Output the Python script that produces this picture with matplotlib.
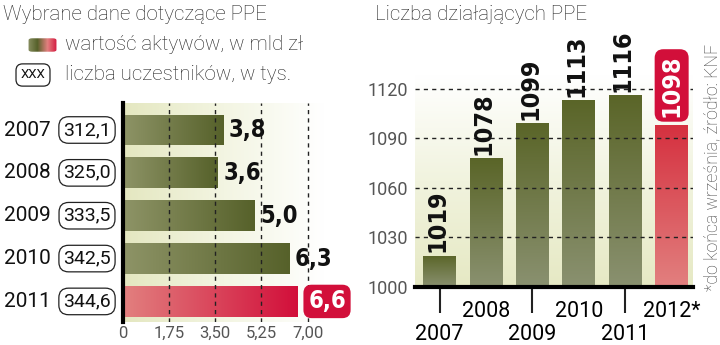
import numpy as np
import matplotlib
matplotlib.use("Agg")
import matplotlib.pyplot as plt
from matplotlib.colors import LinearSegmentedColormap
from matplotlib.patches import FancyBboxPatch
from matplotlib.transforms import blended_transform_factory

plt.rcParams['font.family'] = ['Roboto', 'DejaVu Sans']

# dane do wykresu lewego
lata = ['2007', '2008', '2009', '2010', '2011']
aktywa = [3.8, 3.6, 5.0, 6.3, 6.6]
uczestnicy = ['312,1', '325,0', '333,5', '342,5', '344,6']
aktywa_tekst = ['3,8', '3,6', '5,0', '6,3', '6,6']

# dane do wykresu prawego
lata_ppe = ['2007', '2008', '2009', '2010', '2011', '2012*']
liczba_ppe = [1019, 1078, 1099, 1113, 1116, 1098]

ZIELONY_JASNY = '#8e9467'
ZIELONY_CIEMNY = '#56612a'
CZERWONY_JASNY = '#e2807f'
CZERWONY_CIEMNY = '#d20f3a'
SZARY = '#555555'
BOLD = dict(family='DejaVu Sans', fontstretch='condensed', fontweight='bold')

fig = plt.figure(figsize=(7.2, 3.45), dpi=100)


def gradient_bar(ax, patch, c1, c2, horizontal=True):
    # wypelnia prostokat slupka gradientem
    cmap = LinearSegmentedColormap.from_list('g', [c1, c2])
    x0, y0 = patch.get_x(), patch.get_y()
    w, h = patch.get_width(), patch.get_height()
    grad = np.linspace(0, 1, 256)
    grad = grad.reshape(1, -1) if horizontal else grad.reshape(-1, 1)
    im = ax.imshow(grad, cmap=cmap, aspect='auto', origin='lower',
                   extent=[x0, x0 + w, y0, y0 + h], zorder=patch.get_zorder())
    im.set_clip_path(patch)
    patch.set_facecolor('none')


# ---------------- lewy wykres: aktywa ----------------
ax1 = fig.add_axes([123 / 720, 23 / 345, 211 / 720, 219 / 345])
ax1.set_xlim(0, 8.0)
ax1.set_ylim(4.48, -0.63)

# tlo z gradientem
tlo = LinearSegmentedColormap.from_list('tlo', ['#e4e7c0', '#f3f5e2', '#ffffff'])
ax1.imshow(np.linspace(0, 1, 256).reshape(1, -1), cmap=tlo, aspect='auto',
           extent=[0, 7.6, 4.48, -0.63], zorder=0)

poz = np.arange(len(lata))
slupki = ax1.barh(poz, aktywa, height=0.72, zorder=2)
for i, p in enumerate(slupki):
    if i == len(slupki) - 1:
        gradient_bar(ax1, p, CZERWONY_JASNY, CZERWONY_CIEMNY)
    else:
        gradient_bar(ax1, p, ZIELONY_JASNY, ZIELONY_CIEMNY)

for x in [1.75, 3.5, 5.25, 7.0]:
    ax1.axvline(x, color='#222222', lw=1.0, ls=(0, (3, 3)), zorder=3)

ax1.set_xticks([0, 1.75, 3.5, 5.25, 7.0], ['0', '1,75', '3,50', '5,25', '7,00'])
ax1.tick_params(axis='x', length=0, pad=3, labelsize=12, labelcolor=SZARY)
ax1.set_yticks([])
for s in ['top', 'right', 'bottom']:
    ax1.spines[s].set_visible(False)
ax1.spines['left'].set_linewidth(3)
ax1.spines['left'].set_zorder(5)

tr = blended_transform_factory(fig.transFigure, ax1.transData)
for i in range(len(lata)):
    ax1.text(51 / 720, i, lata[i], transform=tr, ha='right', va='center',
             fontsize=15, color='#111111')
    ax1.text(87 / 720, i, uczestnicy[i], transform=tr, ha='center', va='center',
             fontsize=14, color='#111111',
             bbox=dict(boxstyle='round,pad=0.22,rounding_size=0.5', fc='white',
                       ec='#222222', lw=0.9))
    if i == len(lata) - 1:
        ax1.text(aktywa[i] + 0.42, i, aktywa_tekst[i], ha='left', va='center',
                 fontsize=17, color='white', **BOLD,
                 bbox=dict(boxstyle='round,pad=0.2,rounding_size=0.35',
                           fc=CZERWONY_CIEMNY, ec='none'), clip_on=False)
    else:
        ax1.text(aktywa[i] + 0.2, i, aktywa_tekst[i], ha='left', va='center',
                 fontsize=17, color='#111111', **BOLD)

# ---------------- prawy wykres: liczba PPE ----------------
ax2 = fig.add_axes([415 / 720, 58 / 345, 278 / 720, 248 / 345])
ax2.set_xlim(-0.53, 5.46)
ax2.set_ylim(1000, 1150)

tlo2 = LinearSegmentedColormap.from_list('tlo2', ['#e6e9c4', '#f1f3de', '#ffffff'])
ax2.imshow(np.linspace(0, 1, 256).reshape(-1, 1), cmap=tlo2, aspect='auto',
           origin='lower', extent=[-0.53, 5.46, 1000, 1128], zorder=0)

x = np.arange(len(lata_ppe))
slupki2 = ax2.bar(x, np.array(liczba_ppe) - 1000, bottom=1000, width=0.71, zorder=2)
for i, p in enumerate(slupki2):
    if i == len(slupki2) - 1:
        gradient_bar(ax2, p, CZERWONY_JASNY, '#d5303f', horizontal=False)
    else:
        gradient_bar(ax2, p, '#8a9170', '#5a6528', horizontal=False)

for y in [1030, 1060, 1090, 1120]:
    ax2.axhline(y, color='#222222', lw=1.0, ls=(0, (3, 3)), zorder=3)

for i, v in enumerate(liczba_ppe):
    if i == len(liczba_ppe) - 1:
        ax2.text(i, v + 5, str(v), rotation=90, ha='center', va='bottom',
                 fontsize=18, color='white', **BOLD,
                 bbox=dict(boxstyle='round,pad=0.2,rounding_size=0.35',
                           fc=CZERWONY_CIEMNY, ec='none'))
    else:
        ax2.text(i - 0.05, v + 2, str(v), rotation=90, ha='center', va='bottom',
                 fontsize=18, color='#111111', **BOLD)

ax2.set_yticks([1000, 1030, 1060, 1090, 1120])
ax2.tick_params(axis='y', length=0, pad=5, labelsize=13, labelcolor=SZARY)
ax2.set_xticks(x[::2], lata_ppe[::2])
ax2.set_xticks(x[1::2], lata_ppe[1::2], minor=True)
ax2.tick_params(axis='x', which='major', length=19, width=1.5, color='#222222',
                pad=8, labelsize=15.5)
ax2.tick_params(axis='x', which='minor', length=0, pad=10, labelsize=15.5)
for s in ['top', 'right', 'left']:
    ax2.spines[s].set_visible(False)
ax2.spines['bottom'].set_linewidth(3)
ax2.spines['bottom'].set_zorder(5)

# ---------------- tytuly, legenda, zrodlo ----------------
fig.text(3 / 720, 1 - 14 / 345, 'Wybrane dane dotyczące PPE', fontsize=14.8,
         fontweight='light', va='center', ha='left', color='#222222')
fig.text(375 / 720, 1 - 14 / 345, 'Liczba działających PPE', fontsize=14.8,
         fontweight='light', va='center', ha='left', color='#222222')

axl = fig.add_axes([27 / 720, 1 - 53 / 345, 31 / 720, 16 / 345])
leg_cmap = LinearSegmentedColormap.from_list(
    'leg', [ZIELONY_JASNY, ZIELONY_CIEMNY, CZERWONY_JASNY, CZERWONY_CIEMNY])
leg_im = axl.imshow(np.linspace(0, 1, 64).reshape(1, -1), cmap=leg_cmap,
                    aspect='auto', extent=[0, 1, 0, 1])
leg_patch = FancyBboxPatch((0.05, 0.08), 0.9, 0.84,
                           boxstyle='round,pad=0,rounding_size=0.12',
                           transform=axl.transAxes, fc='none', ec='none')
axl.add_patch(leg_patch)
leg_im.set_clip_path(leg_patch)
axl.axis('off')

fig.text(65 / 720, 1 - 45 / 345, 'wartość aktywów, w mld zł', fontsize=14.8,
         fontweight='light', va='center', ha='left', color='#222222')
fig.text(33 / 720, 1 - 75 / 345, 'XXX', fontsize=9.5, va='center', ha='center',
         color='#111111',
         bbox=dict(boxstyle='round,pad=0.35,rounding_size=0.5', fc='white',
                   ec='#222222', lw=0.9))
fig.text(65 / 720, 1 - 75 / 345, 'liczba uczestników, w tys.', fontsize=14.8,
         fontweight='light', va='center', ha='left', color='#222222')

fig.text(712 / 720, 1 - 291 / 345, '*do końca września, źródło: KNF',
         rotation=90, fontsize=12.8, fontweight='light', va='bottom', ha='center',
         color='#444444')

fig.savefig('out.png', dpi=100)
